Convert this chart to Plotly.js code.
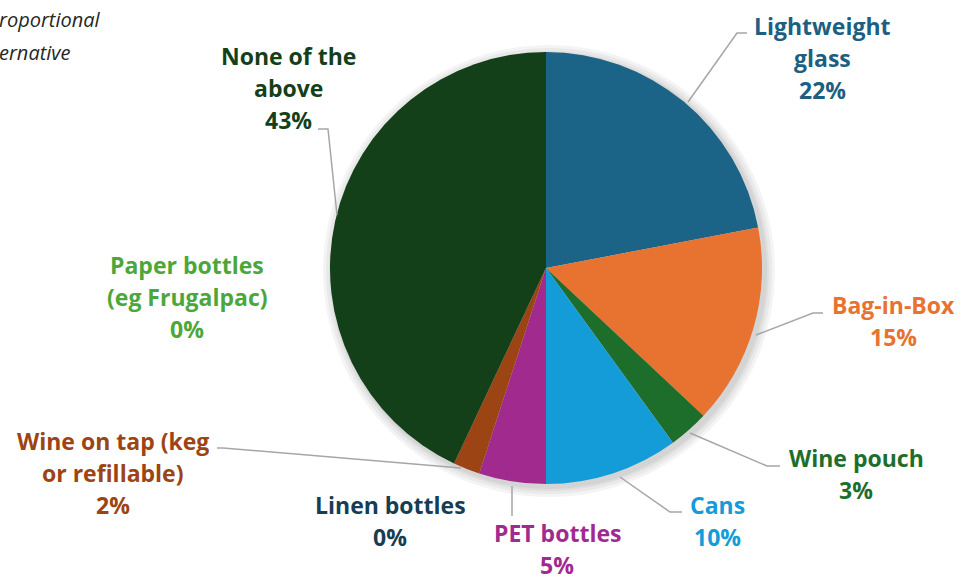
<!DOCTYPE html>
<html>
<head>
<meta charset="utf-8">
<script src="https://cdn.plot.ly/plotly-3.0.1.min.js"></script>
<style>html,body{margin:0;padding:0;background:#fff;}#chart{width:970px;height:578px;}</style>
</head>
<body>
<div id="chart"></div>
<script>
// ---- data ----
const categories = ["Lightweight glass","Bag-in-Box","Wine pouch","Cans","PET bottles","Linen bottles","Wine on tap (keg or refillable)","Paper bottles (eg Frugalpac)","None of the above"];
const values = [22, 15, 3, 10, 5, 0, 2, 0, 43];
const labelLines = [["Lightweight","glass"],["Bag-in-Box"],["Wine pouch"],["Cans"],["PET bottles"],["Linen bottles"],["Wine on tap (keg","or refillable)"],["Paper bottles","(eg Frugalpac)"],["None of the","above"]];
const sliceColors = ["#1b6387","#e8722f","#1e6e2b","#139cd7","#a12a8f","#173d52","#9c4414","#4ba73b","#133f19"];
const textColors  = ["#1d5f82","#e8722f","#1e6e2b","#139cd7","#a12a8f","#173d52","#9c4414","#4ba73b","#133f19"];
const titleFragments = ["roportional","ernative"];

// ---- layout helpers (pixel -> paper) ----
const W = 970, H = 578;
const px = x => x / W, py = y => 1 - y / H;
const cx = 546, cy = 268, R = 216;

// label anchor (center x, first line y) in pixels
const labelPos = [[822,26],[893,305],[856,458],[717,505],[557,533],[390,505],[113,441],[187,265],[288,56]];
const lineGap = 32;
// leader lines (pixel polylines)
const leaders = [
  [[747,33],[737,33],[688,102]],
  [[823,313],[813,313],[756,335]],
  [[780,466],[767,466],[690,433]],
  [[682,512],[670,512],[620,477]],
  [[512,486],[512,516]],
  null,
  [[217,448],[223,448],[461,468]],
  null,
  [[318,129],[328,129],[337,215]]
];

const annotations = [];
categories.forEach((c, i) => {
  const lines = labelLines[i].concat([values[i] + "%"]);
  lines.forEach((t, k) => {
    annotations.push({
      xref: "paper", yref: "paper",
      x: px(labelPos[i][0]), y: py(labelPos[i][1] + k * lineGap),
      xanchor: "center", yanchor: "middle",
      text: "<b>" + t + "</b>", showarrow: false,
      font: {family: "Open Sans, sans-serif", size: 23, color: textColors[i]}
    });
  });
});
titleFragments.forEach((t, k) => {
  annotations.push({
    xref: "paper", yref: "paper", x: px(-3), y: py(20 + k * 33),
    xanchor: "left", yanchor: "middle", showarrow: false,
    text: "<i>" + t + "</i>",
    font: {family: "Open Sans, sans-serif", size: 20, color: "#262626"}
  });
});

const shapes = [];
// soft shadow rings behind pie
[10, 7, 4, 2].forEach((d, k) => {
  shapes.push({
    type: "circle", xref: "paper", yref: "paper", layer: "below",
    x0: px(cx - R - d + 3), x1: px(cx + R + d + 3),
    y0: py(cy + R + d + 3), y1: py(cy - R - d + 3),
    line: {width: 0}, fillcolor: "rgba(0,0,0,0.045)"
  });
});
leaders.forEach(p => {
  if (!p) return;
  const path = p.map((pt, j) => (j ? "L" : "M") + px(pt[0]) + "," + py(pt[1])).join(" ");
  shapes.push({type: "path", xref: "paper", yref: "paper", path: path,
    line: {color: "#a6a6a6", width: 1.5}});
});

const trace = {
  type: "pie",
  labels: categories,
  values: values,
  sort: false,
  direction: "clockwise",
  rotation: 0,
  marker: {colors: sliceColors, line: {width: 0}},
  textinfo: "none",
  hoverinfo: "label+percent",
  showlegend: false,
  domain: {x: [px(cx) - 0.26, px(cx) + 0.26], y: [py(cy + R), py(cy - R)]}
};

Plotly.newPlot("chart", [trace], {
  width: W, height: H,
  margin: {l: 0, r: 0, t: 0, b: 0},
  paper_bgcolor: "#ffffff",
  showlegend: false,
  annotations: annotations,
  shapes: shapes
}, {displayModeBar: false, staticPlot: true});
</script>
</body>
</html>
